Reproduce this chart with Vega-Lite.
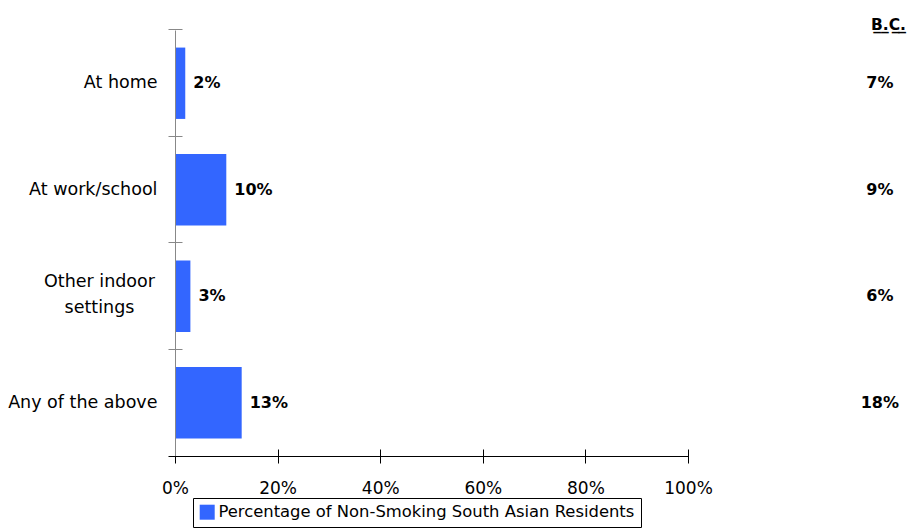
{
  "$schema": "https://vega.github.io/schema/vega-lite/v6.json",
  "width": 513,
  "height": 426,
  "autosize": {"type": "none"},
  "padding": {"left": 175, "top": 30, "right": 220, "bottom": 73},
  "background": "#ffffff",
  "config": {"view": {"stroke": null}},
  "title": {
    "text": "B̲.̲C̲.̲",
    "anchor": "end",
    "frame": "group",
    "dx": 218,
    "dy": 18,
    "offset": 1,
    "baseline": "alphabetic",
    "font": "DejaVu Sans",
    "fontSize": 15.5,
    "fontWeight": "bold",
    "color": "#000000"
  },
  "data": {
    "values": [
      {"category": "At home", "value": 0.02, "bc": 0.07, "series": "Percentage of Non-Smoking South Asian Residents"},
      {"category": "At work/school", "value": 0.10, "bc": 0.09, "series": "Percentage of Non-Smoking South Asian Residents"},
      {"category": "Other indoor settings", "value": 0.03, "bc": 0.06, "series": "Percentage of Non-Smoking South Asian Residents"},
      {"category": "Any of the above", "value": 0.13, "bc": 0.18, "series": "Percentage of Non-Smoking South Asian Residents"}
    ]
  },
  "layer": [
    {
      "mark": {"type": "bar"},
      "encoding": {
        "y": {
          "field": "category", "type": "nominal", "sort": null,
          "scale": {"paddingInner": 0.33, "paddingOuter": 0.165},
          "axis": {
            "orient": "left", "ticks": false, "domain": true, "domainColor": "#888888", "zindex": 1,
            "labelFont": "DejaVu Sans", "labelFontSize": 17.5, "labelColor": "#000000",
            "labelLineHeight": 26, "labelLimit": 300, "title": null, "grid": false,
            "labelPadding": {"condition": {"test": "datum.value == 'Other indoor settings'", "value": 76}, "value": 18},
            "labelAlign": {"condition": {"test": "datum.value == 'Other indoor settings'", "value": "center"}, "value": "right"},
            "labelOffset": {"condition": {"test": "datum.value == 'Other indoor settings'", "value": -14}, "value": 0},
            "labelExpr": "datum.value == 'Other indoor settings' ? ['Other indoor', 'settings'] : datum.label"
          }
        },
        "x": {
          "field": "value", "type": "quantitative",
          "scale": {"domain": [0, 1], "nice": false},
          "axis": {
            "orient": "bottom", "format": ".0%", "values": [0, 0.2, 0.4, 0.6, 0.8, 1],
            "ticks": false, "domain": true, "domainColor": "#000000", "grid": false, "zindex": 1,
            "labelPadding": 24, "labelFont": "DejaVu Sans", "labelFontSize": 17, "labelColor": "#000000",
            "labelFlush": false, "labelOverlap": false, "title": null
          }
        },
        "color": {
          "field": "series", "type": "nominal",
          "scale": {"range": ["#3366FF"]},
          "legend": {
            "orient": "none", "legendX": 18, "legendY": 468, "direction": "horizontal",
            "title": null, "symbolType": "square", "symbolSize": 225, "symbolStrokeWidth": 0,
            "labelFont": "DejaVu Sans", "labelFontSize": 16.4, "labelColor": "#000000",
            "strokeColor": "#000000", "fillColor": "#ffffff", "padding": 6, "labelOffset": 3, "labelLimit": 600
          }
        }
      }
    },
    {
      "mark": {"type": "text", "align": "left", "baseline": "middle", "dx": 8, "font": "DejaVu Sans", "fontSize": 16, "fontWeight": "bold", "color": "#000000"},
      "encoding": {
        "y": {
          "field": "category", "type": "nominal", "sort": null,
          "axis": {
            "orient": "left", "offset": -7, "tickSize": 14, "bandPosition": -0.2463, "tickColor": "#888888", "zindex": 1,
            "domain": false, "labels": false, "grid": false, "title": null
          }
        },
        "x": {
          "field": "value", "type": "quantitative",
          "axis": {
            "orient": "bottom", "offset": -7, "tickSize": 14, "tickColor": "#000000", "zindex": 1,
            "values": [0, 0.2, 0.4, 0.6, 0.8, 1],
            "domain": false, "labels": false, "grid": false, "title": null
          }
        },
        "text": {"field": "value", "format": ".0%"}
      }
    },
    {
      "mark": {"type": "text", "align": "center", "baseline": "middle", "font": "DejaVu Sans", "fontSize": 16, "fontWeight": "bold", "color": "#000000"},
      "encoding": {
        "y": {
          "field": "category", "type": "nominal", "sort": null,
          "axis": {
            "orient": "left", "offset": -7, "tickSize": 14, "bandPosition": 1.2463, "tickColor": "#000000", "zindex": 1,
            "values": ["Any of the above"],
            "domain": false, "labels": false, "grid": false, "title": null
          }
        },
        "x": {"datum": 1.374, "type": "quantitative", "axis": null},
        "text": {"field": "bc", "format": ".0%"}
      }
    }
  ],
  "resolve": {"axis": {"x": "independent", "y": "independent"}}
}
